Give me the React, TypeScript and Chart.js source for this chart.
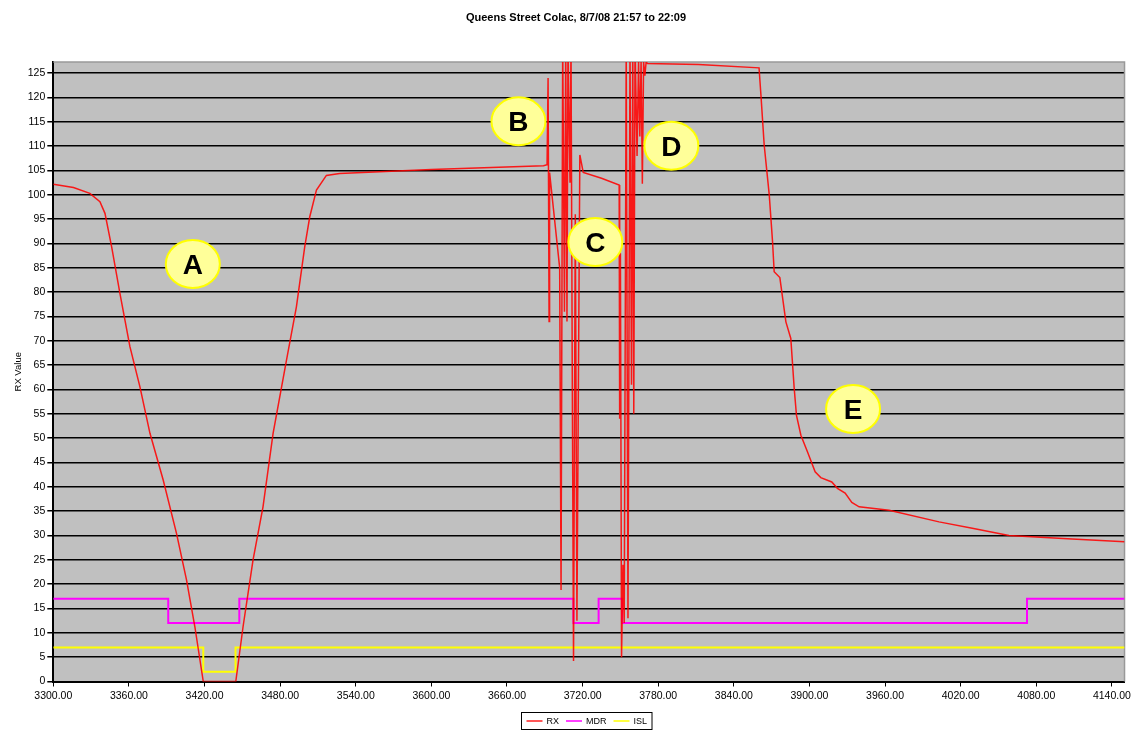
import React, { useEffect, useRef } from 'react';
import { Chart, registerables } from 'chart.js';

Chart.register(...registerables);

const TITLE = 'Queens Street Colac, 8/7/08 21:57 to 22:09';
const Y_TITLE = 'RX Value';
const SERIES_NAMES = ['RX', 'MDR', 'ISL'];

const X_MIN = 3300;
const X_MAX = 4150;
const Y_MIN = 0;
const Y_MAX = 127.3;

const xTickValues = [3300, 3360, 3420, 3480, 3540, 3600, 3660, 3720, 3780, 3840, 3900, 3960, 4020, 4080, 4140];
const yTickValues = [0, 5, 10, 15, 20, 25, 30, 35, 40, 45, 50, 55, 60, 65, 70, 75, 80, 85, 90, 95, 100, 105, 110, 115, 120, 125];

const rxX = [
  3300, 3316, 3329, 3337, 3341, 3346.3, 3352.9, 3360.8, 3368.7, 3376.7, 3387.2, 3397.8, 3405.7, 3412.3, 3419,
  3444.8, 3450.6, 3458.5, 3466.4, 3474.4, 3485, 3492.9, 3499.5, 3503.5, 3508.8, 3516.7, 3527.2, 3600, 3689,
  3691.8, 3692.6, 3693.4, 3693.8, 3701.8, 3702.9, 3704.2, 3705.6, 3706.6, 3707.6, 3708.4, 3710.0, 3710.8,
  3711.8, 3712.8, 3714.2, 3715.5, 3717.8, 3720.5, 3735, 3749.0, 3749.4, 3750.0, 3750.9,
  3752.0, 3753.0, 3754.6, 3756.0, 3757.6, 3758.8, 3759.8, 3760.6, 3761.6, 3763.2, 3764.4, 3765.4, 3766.4,
  3767.4, 3768.4, 3769.4, 3770.4, 3771.4, 3812, 3860, 3861.5, 3864.1, 3868.1, 3870.7, 3872, 3876.5, 3881.3,
  3885.2, 3887.9, 3889.7, 3893.2, 3898.4, 3904.5, 3909, 3917.7, 3922.2, 3928.3, 3933.6, 3939.4, 3963.2,
  4002.8, 4029.2, 4058.3, 4108.4, 4150,
];
const rxY = [
  102.2, 101.5, 100.3, 98.6, 96.2, 89.3, 79.7, 68.8, 60.6, 51.0, 41.4, 30.4, 20.9, 11.3, 0,
  0, 11.3, 25, 35.9, 51, 66, 77, 89.3, 95.5, 101, 104, 104.4, 105.2, 106.0,
  106.2, 124.0, 74.0, 104.6, 85.0, 18.8, 131, 76, 131, 74, 131, 102.5, 131,
  63, 4.2, 96, 12.5, 108.2, 104.6, 103.4, 102.0, 54.0, 88, 5,
  24, 12, 131, 13, 131, 61, 131, 55, 131, 108, 127.5, 112, 127.5,
  102.3, 127.3, 124.5, 127.3, 127.0, 126.8, 126.1, 120.5, 110.2, 100, 90.4, 84.2, 83, 73.9,
  70.5, 60.2, 54.7, 50.6, 47.2, 43.1, 41.9, 41.0, 39.7, 38.7, 36.8, 35.9, 35.2,
  32.8, 31.5, 30.0, 29.3, 28.7,
];

const mdrX = [3300, 3391.2, 3447.6, 3712.7, 3732.7, 3751.3, 4072.6, 4150];
const mdrY = [17, 12, 17, 12, 17, 12, 17, 17];

const islX = [3300, 3419, 3444.6, 4150];
const islY = [7, 2, 7, 7];

const annText = ['A', 'B', 'C', 'D', 'E'];
const annX = [3410.7, 3669.1, 3730.1, 3790.4, 3934.6];
const annY = [85.8, 115.1, 90.3, 110.1, 56.0];

const FONT = "'Liberation Sans', Arial, sans-serif";

const toPoints = (xs: number[], ys: number[]) => xs.map((x, i) => ({ x, y: ys[i] }));

const decorPlugin = {
  id: 'decor',
  beforeDraw(chart: any) {
    const { ctx, chartArea: a } = chart;
    ctx.save();
    ctx.fillStyle = '#C0C0C0';
    ctx.fillRect(a.left, a.top, a.right - a.left, a.bottom - a.top);
    ctx.restore();
  },
  beforeDatasetsDraw(chart: any) {
    const { ctx, chartArea: a } = chart;
    ctx.save();
    ctx.strokeStyle = '#999999';
    ctx.lineWidth = 1.5;
    ctx.beginPath();
    ctx.moveTo(a.left, a.top);
    ctx.lineTo(a.right, a.top);
    ctx.lineTo(a.right, a.bottom);
    ctx.stroke();
    ctx.restore();
  },
  afterDraw(chart: any) {
    const { ctx } = chart;
    const xs = chart.scales.x;
    const ys = chart.scales.y;
    ctx.save();
    for (let i = 0; i < annText.length; i++) {
      const cx = xs.getPixelForValue(annX[i]);
      const cy = ys.getPixelForValue(annY[i]);
      ctx.beginPath();
      ctx.ellipse(cx, cy, 27, 24, 0, 0, Math.PI * 2);
      ctx.fillStyle = '#FFFF99';
      ctx.fill();
      ctx.lineWidth = 2;
      ctx.strokeStyle = '#FFFF00';
      ctx.stroke();
      ctx.fillStyle = '#000';
      ctx.font = `bold 28px ${FONT}`;
      ctx.textAlign = 'center';
      ctx.textBaseline = 'alphabetic';
      ctx.fillText(annText[i], cx, cy + 10);
    }
    ctx.fillStyle = '#000';
    ctx.font = `bold 11px ${FONT}`;
    ctx.textAlign = 'center';
    ctx.textBaseline = 'middle';
    ctx.fillText(TITLE, 576, 18);
    ctx.font = `9px ${FONT}`;
    const ds = chart.data.datasets;
    const lineLen = 16;
    const gap1 = 4;
    const gap2 = 7;
    let total = 0;
    ds.forEach((d: any, i: number) => {
      total += lineLen + gap1 + ctx.measureText(d.label).width + (i < ds.length - 1 ? gap2 : 0);
    });
    const boxW = total + 10;
    const boxH = 17;
    const bx = Math.round(586 - boxW / 2) + 0.5;
    const by = 712.5;
    ctx.fillStyle = '#fff';
    ctx.fillRect(bx, by, boxW, boxH);
    ctx.strokeStyle = '#000';
    ctx.lineWidth = 1;
    ctx.strokeRect(bx, by, boxW, boxH);
    let cx = bx + 5;
    const cy = by + boxH / 2;
    ds.forEach((d: any) => {
      ctx.strokeStyle = d.borderColor;
      ctx.lineWidth = 1.5;
      ctx.beginPath();
      ctx.moveTo(cx, cy);
      ctx.lineTo(cx + lineLen, cy);
      ctx.stroke();
      cx += lineLen + gap1;
      ctx.fillStyle = '#000';
      ctx.textAlign = 'left';
      ctx.textBaseline = 'middle';
      ctx.fillText(d.label, cx, cy + 0.5);
      cx += ctx.measureText(d.label).width + gap2;
    });
    ctx.restore();
  },
};

export default function App() {
  const ref = useRef<HTMLCanvasElement | null>(null);

  useEffect(() => {
    if (!ref.current) return;
    const tickFont = { family: FONT, size: 10.5 };
    const chart = new Chart(ref.current, {
      type: 'line',
      data: {
        datasets: [
          {
            label: SERIES_NAMES[0],
            data: toPoints(rxX, rxY),
            borderColor: 'rgba(255,0,0,0.88)',
            borderWidth: 1.5,
            pointRadius: 0,
            tension: 0,
            fill: false,
          },
          {
            label: SERIES_NAMES[1],
            data: toPoints(mdrX, mdrY),
            borderColor: '#FF00FF',
            borderWidth: 2,
            pointRadius: 0,
            stepped: 'before',
            fill: false,
          },
          {
            label: SERIES_NAMES[2],
            data: toPoints(islX, islY),
            borderColor: '#FFFF00',
            borderWidth: 2,
            pointRadius: 0,
            stepped: 'before',
            fill: false,
          },
        ],
      },
      options: {
        animation: false,
        responsive: true,
        maintainAspectRatio: false,
        layout: { padding: { top: 62, left: 0, right: 8.5, bottom: 19.5 } },
        plugins: {
          legend: { display: false },
          title: { display: false },
          tooltip: { enabled: false },
        },
        events: [],
        scales: {
          x: {
            type: 'linear',
            min: X_MIN,
            max: X_MAX,
            afterBuildTicks: (s: any) => {
              s.ticks = xTickValues.map((v) => ({ value: v }));
            },
            afterFit: (s: any) => {
              s.height = 30;
            },
            ticks: {
              autoSkip: false,
              maxRotation: 0,
              minRotation: 0,
              padding: 3,
              color: '#000',
              font: tickFont,
              callback: (v: any) => Number(v).toFixed(2),
            },
            grid: { drawOnChartArea: false, drawTicks: true, tickLength: 5, color: '#000', lineWidth: 1 },
            border: { display: true, color: '#000', width: 2 },
          },
          y: {
            type: 'linear',
            min: Y_MIN,
            max: Y_MAX,
            afterBuildTicks: (s: any) => {
              s.ticks = yTickValues.map((v) => ({ value: v }));
            },
            afterFit: (s: any) => {
              s.width = 53.3;
            },
            ticks: { autoSkip: false, padding: 2, color: '#000', font: tickFont },
            grid: { color: '#000', lineWidth: 1.5, drawTicks: true, tickLength: 6 },
            border: { display: true, color: '#000', width: 2 },
            title: {
              display: true,
              text: Y_TITLE,
              color: '#000',
              font: { family: FONT, size: 9.5 },
              padding: { top: 12.4, bottom: 0 },
            },
          },
        },
      },
      plugins: [decorPlugin],
    } as any);
    return () => chart.destroy();
  }, []);

  return (
    <div style={{ position: 'fixed', left: 0, top: 0, width: 1134, height: 731, background: '#fff' }}>
      <canvas ref={ref} />
    </div>
  );
}
